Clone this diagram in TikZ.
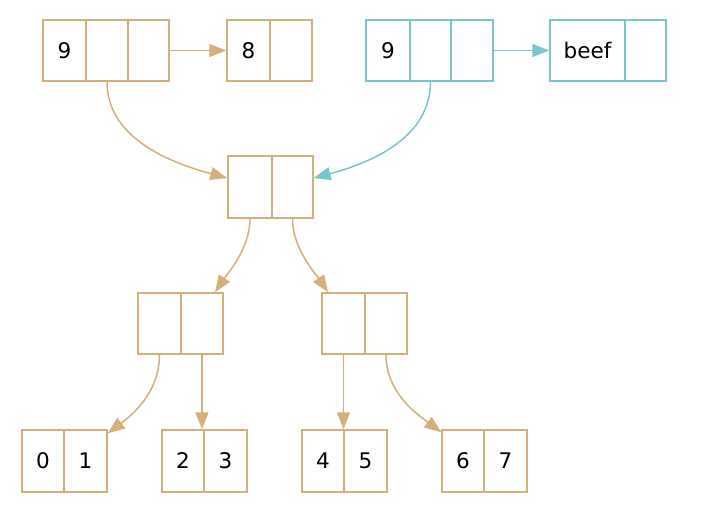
\documentclass[tikz,border=0pt]{standalone}
\usepackage{fontspec}
\setmainfont{DejaVu Sans}
\usetikzlibrary{arrows.meta}
\definecolor{tanc}{HTML}{D4AF7A}
\definecolor{cyanc}{HTML}{7AC5CD}
\tikzset{
  cell/.style={draw, line width=1.5pt, inner sep=0pt, minimum height=61pt,
    font=\fontsize{21.5}{25}\selectfont, text=black},
  tcell/.style={cell, draw=tanc},
  ccell/.style={cell, draw=cyanc},
  link/.style={line width=1.5pt, -{Triangle[length=17pt,width=13pt]}},
  tlink/.style={link, draw=tanc},
  clink/.style={link, draw=cyanc},
}
\begin{document}
\begin{tikzpicture}[x=1pt,y=-1pt]
\useasboundingbox (0,0) rectangle (707,511);
% top left record
\node[tcell, minimum width=43pt] (ta) at (64.5,50.5) {9};
\node[tcell, minimum width=42pt] (tb) at (107,50.5) {};
\node[tcell, minimum width=41pt] (tc) at (148.5,50.5) {};
\node[tcell, minimum width=43pt] (ea) at (248.5,50.5) {8};
\node[tcell, minimum width=42pt] (eb) at (291,50.5) {};
% top right record
\node[ccell, minimum width=44pt] (ca) at (388,50.5) {9};
\node[ccell, minimum width=41pt] (cb) at (430.5,50.5) {};
\node[ccell, minimum width=42pt] (cc) at (472,50.5) {};
\node[ccell, minimum width=75pt] (fa) at (587.5,50.5) {beef};
\node[ccell, minimum width=41pt] (fb) at (645.5,50.5) {};
% middle
\node[tcell, minimum width=44pt, minimum height=62pt] (ml) at (250,187) {};
\node[tcell, minimum width=41pt, minimum height=62pt] (mr) at (292.5,187) {};
% level 2
\node[tcell, minimum width=43pt] (la) at (159.5,323.5) {};
\node[tcell, minimum width=42pt] (lb) at (202,323.5) {};
\node[tcell, minimum width=43pt] (ra) at (343.5,323.5) {};
\node[tcell, minimum width=42pt] (rb) at (386,323.5) {};
% bottom
\node[tcell, minimum width=42pt, minimum height=62pt] (b0) at (43,461) {0};
\node[tcell, minimum width=43pt, minimum height=62pt] (b1) at (85.5,461) {1};
\node[tcell, minimum width=42pt, minimum height=62pt] (b2) at (183,461) {2};
\node[tcell, minimum width=43pt, minimum height=62pt] (b3) at (225.5,461) {3};
\node[tcell, minimum width=42pt, minimum height=62pt] (b4) at (323,461) {4};
\node[tcell, minimum width=43pt, minimum height=62pt] (b5) at (365.5,461) {5};
\node[tcell, minimum width=42pt, minimum height=62pt] (b6) at (463,461) {6};
\node[tcell, minimum width=43pt, minimum height=62pt] (b7) at (505.5,461) {7};
% edges
\draw[tlink] (tc.east) -- (ea.west);
\draw[clink] (cc.east) -- (fa.west);
\draw[tlink] (tb.south) .. controls +(0,55) and +(-60,-16) .. ([yshift=9pt]ml.west);
\draw[clink] (cb.south) .. controls +(0,55) and +(60,-16) .. ([yshift=9pt]mr.east);
\draw[tlink] (ml.south) .. controls +(0,30) and +(12,-18) .. ([xshift=13pt]lb.north);
\draw[tlink] (mr.south) .. controls +(0,30) and +(-12,-18) .. ([xshift=-15.5pt]ra.north);
\draw[tlink] (la.south) .. controls +(0,38) and +(24,-18) .. ([yshift=-4pt]b1.north east);
\draw[tlink] (lb.south) -- (lb.south |- b3.north);
\draw[tlink] (ra.south) -- (ra.south |- b5.north);
\draw[tlink] (rb.south) .. controls +(0,38) and +(-24,-18) .. ([yshift=-3pt]b6.north west);
\end{tikzpicture}
\end{document}
